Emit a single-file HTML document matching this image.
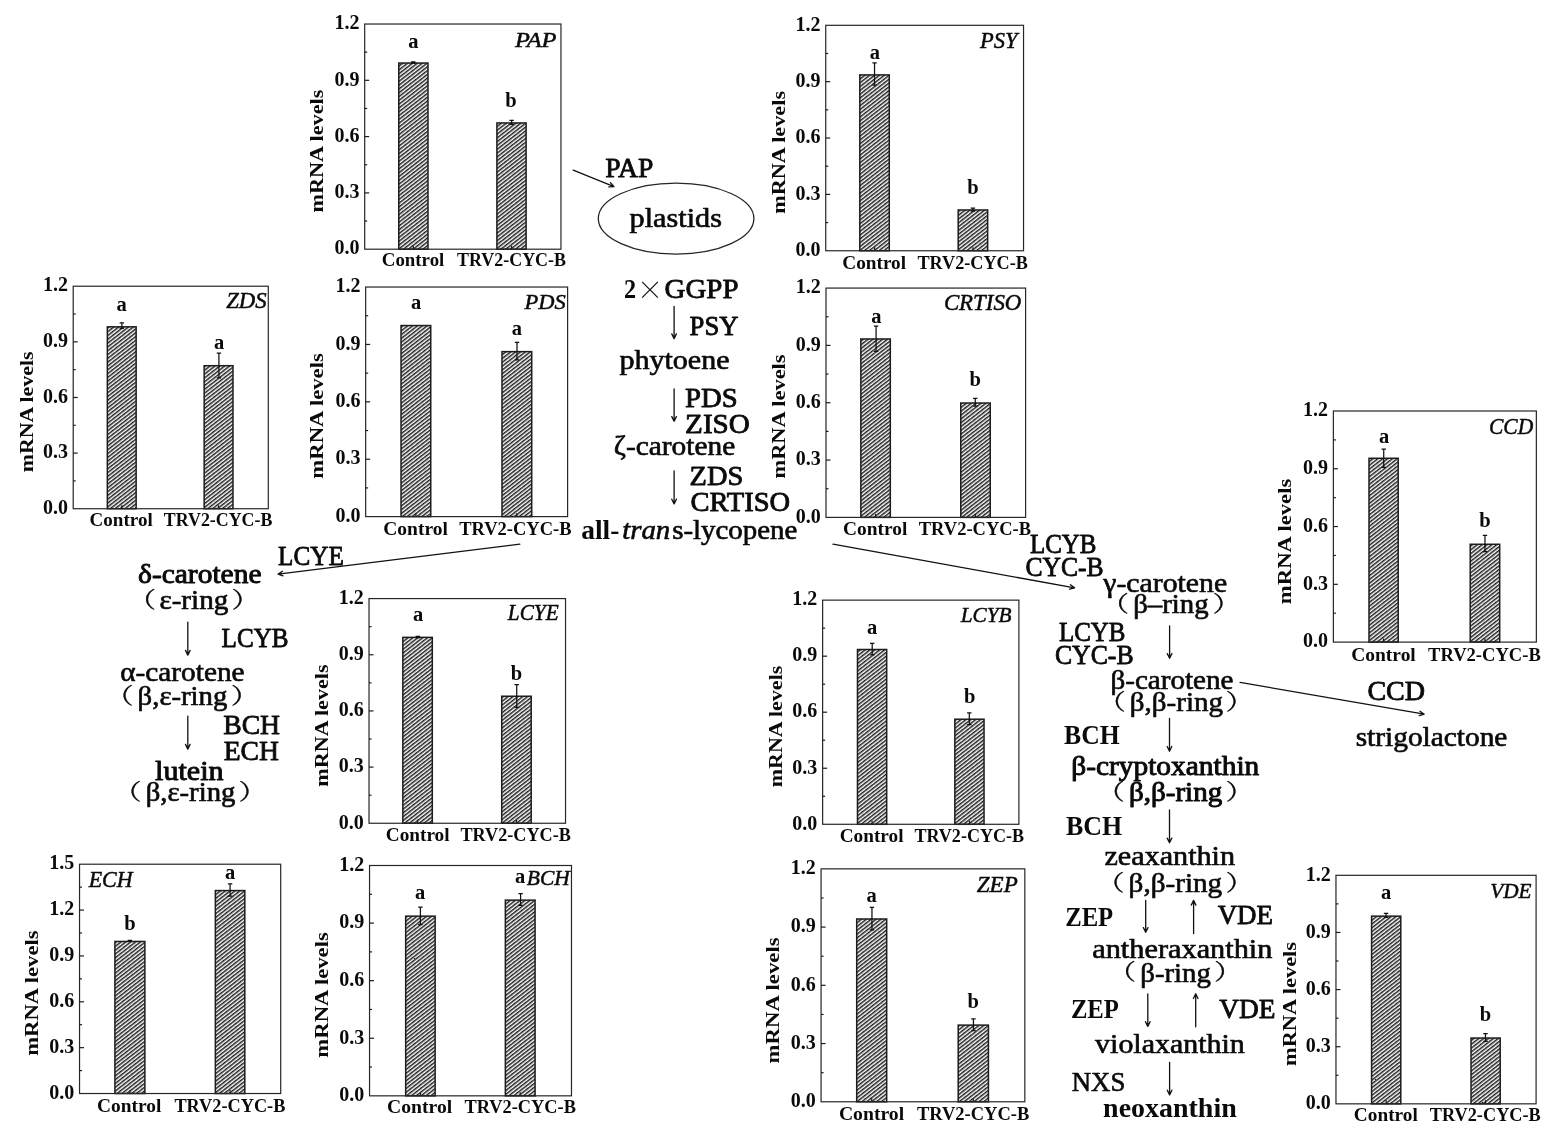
<!DOCTYPE html>
<html lang="en">
<head>
<meta charset="utf-8">
<title>Carotenoid biosynthesis pathway – mRNA levels</title>
<style>
html,body{margin:0;padding:0;background:#fff;}
body{width:1549px;height:1132px;overflow:hidden;}
svg{display:block;}
text{font-family:"Liberation Serif", "DejaVu Serif", serif;fill:#0a0a0a;}
.b{font-weight:bold;}
.i{font-style:italic;}
.bi{font-style:italic;font-weight:bold;}
.gi{font-style:italic;stroke:#0a0a0a;stroke-width:0.5px;stroke-linejoin:round;}
.p{font-weight:normal;stroke:#0a0a0a;stroke-width:0.62px;stroke-linejoin:round;}
.pu{font-weight:normal;stroke:#0a0a0a;stroke-width:0.8px;stroke-linejoin:round;}
.pb{font-weight:bold;}
.ps{font-weight:normal;stroke:#0a0a0a;stroke-width:0.9px;stroke-linejoin:round;}
.pi{font-style:italic;stroke:#0a0a0a;stroke-width:0.6px;stroke-linejoin:round;}
.cj{font-family:"Liberation Serif", "Noto Serif CJK SC", "Noto Sans CJK SC", serif;stroke:#0a0a0a;stroke-width:0.3px;}
.x{font-family:"Noto Serif CJK SC", "Liberation Serif", "DejaVu Serif", serif;}
.bar{fill:url(#hatch);stroke:#1c1c1c;stroke-width:1.5;}
.fr{fill:none;stroke:#262626;stroke-width:1.2;}
.tk{stroke:#1c1c1c;stroke-width:1.2;}
.eb{stroke:#111;stroke-width:1.25;fill:none;}
.ar{stroke:#111;stroke-width:1.3;fill:none;stroke-linecap:round;stroke-linejoin:round;}
</style>
</head>
<body>
<svg width="1549" height="1132" viewBox="0 0 1549 1132">
<defs>
<pattern id="hatch" patternUnits="userSpaceOnUse" width="4" height="3" patternTransform="rotate(-38)">
<rect width="4" height="3" fill="#fff"/>
<rect y="0" width="4" height="1.5" fill="#1e1e1e"/>
</pattern>
</defs>
<rect width="1549" height="1132" fill="#fff"/>
<g>
<rect class="bar" x="398.77" y="63.04" width="29.21" height="186.15"/>
<line class="tk" x1="413.38" y1="249.19" x2="413.38" y2="245.69"/>
<rect class="bar" x="496.90" y="122.95" width="29.21" height="126.24"/>
<line class="tk" x1="511.50" y1="249.19" x2="511.50" y2="245.69"/>
<path class="eb" d="M413.25 61.98V63.01M411.05 61.98H415.45M411.05 63.01H415.45"/>
<path class="eb" d="M511.63 120.34V124.47M509.43 120.34H513.83M509.43 124.47H513.83"/>
<rect class="fr" x="364.70" y="24.02" width="196.26" height="225.18"/>
<line class="tk" x1="364.70" y1="221.05" x2="367.20" y2="221.05"/>
<text class="b" x="359.4" y="254.4" font-size="20" text-anchor="end">0.0</text>
<line class="tk" x1="364.70" y1="192.90" x2="369.20" y2="192.90"/>
<line class="tk" x1="364.70" y1="164.75" x2="367.20" y2="164.75"/>
<text class="b" x="359.4" y="198.1" font-size="20" text-anchor="end">0.3</text>
<line class="tk" x1="364.70" y1="136.60" x2="369.20" y2="136.60"/>
<line class="tk" x1="364.70" y1="108.46" x2="367.20" y2="108.46"/>
<text class="b" x="359.4" y="141.8" font-size="20" text-anchor="end">0.6</text>
<line class="tk" x1="364.70" y1="80.31" x2="369.20" y2="80.31"/>
<line class="tk" x1="364.70" y1="52.16" x2="367.20" y2="52.16"/>
<text class="b" x="359.4" y="85.5" font-size="20" text-anchor="end">0.9</text>
<text class="b" x="359.4" y="29.2" font-size="20" text-anchor="end">1.2</text>
<text class="b" x="413.3" y="47.6" font-size="20.5" text-anchor="middle">a</text>
<text class="b" x="510.9" y="106.8" font-size="20.5" text-anchor="middle">b</text>
<text class="gi" x="515.0" y="46.5" font-size="21.2" textLength="41.5" lengthAdjust="spacingAndGlyphs">PAP</text>
<text class="b" x="381.8" y="266.4" font-size="18" textLength="62.5" lengthAdjust="spacingAndGlyphs">Control</text>
<text class="b" x="457.0" y="266.4" font-size="18" textLength="109.0" lengthAdjust="spacingAndGlyphs">TRV2-CYC-B</text>
<text class="b" transform="translate(323.2 151.1) rotate(-90)" font-size="18" text-anchor="middle" textLength="122.9" lengthAdjust="spacingAndGlyphs">mRNA levels</text>
</g>
<g>
<rect class="bar" x="859.80" y="74.92" width="29.47" height="175.82"/>
<line class="tk" x1="874.54" y1="250.74" x2="874.54" y2="247.24"/>
<rect class="bar" x="958.19" y="209.98" width="29.47" height="40.77"/>
<line class="tk" x1="972.92" y1="250.74" x2="972.92" y2="247.24"/>
<path class="eb" d="M874.54 62.75V85.22M872.34 62.75H876.74M872.34 85.22H876.74"/>
<path class="eb" d="M972.92 208.13V211.23M970.72 208.13H975.12M970.72 211.23H975.12"/>
<rect class="fr" x="825.73" y="25.31" width="197.81" height="225.44"/>
<line class="tk" x1="825.73" y1="222.56" x2="828.23" y2="222.56"/>
<text class="b" x="820.4" y="255.9" font-size="20" text-anchor="end">0.0</text>
<line class="tk" x1="825.73" y1="194.38" x2="830.23" y2="194.38"/>
<line class="tk" x1="825.73" y1="166.20" x2="828.23" y2="166.20"/>
<text class="b" x="820.4" y="199.6" font-size="20" text-anchor="end">0.3</text>
<line class="tk" x1="825.73" y1="138.02" x2="830.23" y2="138.02"/>
<line class="tk" x1="825.73" y1="109.85" x2="828.23" y2="109.85"/>
<text class="b" x="820.4" y="143.2" font-size="20" text-anchor="end">0.6</text>
<line class="tk" x1="825.73" y1="81.67" x2="830.23" y2="81.67"/>
<line class="tk" x1="825.73" y1="53.49" x2="828.23" y2="53.49"/>
<text class="b" x="820.4" y="86.9" font-size="20" text-anchor="end">0.9</text>
<text class="b" x="820.4" y="30.5" font-size="20" text-anchor="end">1.2</text>
<text class="b" x="874.8" y="58.7" font-size="20.5" text-anchor="middle">a</text>
<text class="b" x="973.0" y="193.9" font-size="20.5" text-anchor="middle">b</text>
<text class="gi" x="980.0" y="47.8" font-size="23.1" textLength="37.5" lengthAdjust="spacingAndGlyphs">PSY</text>
<text class="b" x="842.3" y="269.0" font-size="18" textLength="63.8" lengthAdjust="spacingAndGlyphs">Control</text>
<text class="b" x="917.5" y="269.0" font-size="18" textLength="110.3" lengthAdjust="spacingAndGlyphs">TRV2-CYC-B</text>
<text class="b" transform="translate(784.5 152.4) rotate(-90)" font-size="18" text-anchor="middle" textLength="122.9" lengthAdjust="spacingAndGlyphs">mRNA levels</text>
</g>
<g>
<rect class="bar" x="107.34" y="326.83" width="28.81" height="181.88"/>
<line class="tk" x1="121.74" y1="508.71" x2="121.74" y2="505.21"/>
<rect class="bar" x="204.16" y="365.70" width="28.81" height="143.01"/>
<line class="tk" x1="218.56" y1="508.71" x2="218.56" y2="505.21"/>
<path class="eb" d="M121.86 322.94V328.43M119.66 322.94H124.06M119.66 328.43H124.06"/>
<path class="eb" d="M218.92 353.23V377.79M216.72 353.23H221.12M216.72 377.79H221.12"/>
<rect class="fr" x="73.21" y="286.22" width="195.07" height="222.50"/>
<line class="tk" x1="73.21" y1="480.90" x2="75.71" y2="480.90"/>
<text class="b" x="67.9" y="513.9" font-size="20" text-anchor="end">0.0</text>
<line class="tk" x1="73.21" y1="453.09" x2="77.71" y2="453.09"/>
<line class="tk" x1="73.21" y1="425.28" x2="75.71" y2="425.28"/>
<text class="b" x="67.9" y="458.3" font-size="20" text-anchor="end">0.3</text>
<line class="tk" x1="73.21" y1="397.47" x2="77.71" y2="397.47"/>
<line class="tk" x1="73.21" y1="369.65" x2="75.71" y2="369.65"/>
<text class="b" x="67.9" y="402.7" font-size="20" text-anchor="end">0.6</text>
<line class="tk" x1="73.21" y1="341.84" x2="77.71" y2="341.84"/>
<line class="tk" x1="73.21" y1="314.03" x2="75.71" y2="314.03"/>
<text class="b" x="67.9" y="347.0" font-size="20" text-anchor="end">0.9</text>
<text class="b" x="67.9" y="291.4" font-size="20" text-anchor="end">1.2</text>
<text class="b" x="121.7" y="310.7" font-size="20.5" text-anchor="middle">a</text>
<text class="b" x="219.0" y="349.3" font-size="20.5" text-anchor="middle">a</text>
<text class="gi" x="226.2" y="307.9" font-size="22.2" textLength="40.3" lengthAdjust="spacingAndGlyphs">ZDS</text>
<text class="b" x="89.6" y="526.0" font-size="18" textLength="63.1" lengthAdjust="spacingAndGlyphs">Control</text>
<text class="b" x="163.8" y="526.0" font-size="18" textLength="108.6" lengthAdjust="spacingAndGlyphs">TRV2-CYC-B</text>
<text class="b" transform="translate(32.5 411.9) rotate(-90)" font-size="18" text-anchor="middle" textLength="120.7" lengthAdjust="spacingAndGlyphs">mRNA levels</text>
</g>
<g>
<rect class="bar" x="401.02" y="325.55" width="29.73" height="191.06"/>
<line class="tk" x1="415.89" y1="516.61" x2="415.89" y2="513.11"/>
<rect class="bar" x="501.99" y="351.63" width="29.73" height="164.98"/>
<line class="tk" x1="516.86" y1="516.61" x2="516.86" y2="513.11"/>
<path class="eb" d="M516.99 342.30V359.86M514.79 342.30H519.19M514.79 359.86H519.19"/>
<rect class="fr" x="365.66" y="287.04" width="201.94" height="229.57"/>
<line class="tk" x1="365.66" y1="487.91" x2="368.16" y2="487.91"/>
<text class="b" x="360.4" y="521.8" font-size="20" text-anchor="end">0.0</text>
<line class="tk" x1="365.66" y1="459.22" x2="370.16" y2="459.22"/>
<line class="tk" x1="365.66" y1="430.52" x2="368.16" y2="430.52"/>
<text class="b" x="360.4" y="464.4" font-size="20" text-anchor="end">0.3</text>
<line class="tk" x1="365.66" y1="401.83" x2="370.16" y2="401.83"/>
<line class="tk" x1="365.66" y1="373.13" x2="368.16" y2="373.13"/>
<text class="b" x="360.4" y="407.0" font-size="20" text-anchor="end">0.6</text>
<line class="tk" x1="365.66" y1="344.44" x2="370.16" y2="344.44"/>
<line class="tk" x1="365.66" y1="315.74" x2="368.16" y2="315.74"/>
<text class="b" x="360.4" y="349.6" font-size="20" text-anchor="end">0.9</text>
<text class="b" x="360.4" y="292.2" font-size="20" text-anchor="end">1.2</text>
<text class="b" x="416.1" y="309.3" font-size="20.5" text-anchor="middle">a</text>
<text class="b" x="516.8" y="335.2" font-size="20.5" text-anchor="middle">a</text>
<text class="gi" x="524.6" y="308.7" font-size="21.6" textLength="41.2" lengthAdjust="spacingAndGlyphs">PDS</text>
<text class="b" x="383.3" y="535.1" font-size="18" textLength="64.6" lengthAdjust="spacingAndGlyphs">Control</text>
<text class="b" x="459.2" y="535.1" font-size="18" textLength="112.3" lengthAdjust="spacingAndGlyphs">TRV2-CYC-B</text>
<text class="b" transform="translate(322.9 415.9) rotate(-90)" font-size="18" text-anchor="middle" textLength="125.5" lengthAdjust="spacingAndGlyphs">mRNA levels</text>
</g>
<g>
<rect class="bar" x="860.84" y="338.98" width="29.47" height="178.40"/>
<line class="tk" x1="875.57" y1="517.39" x2="875.57" y2="513.89"/>
<rect class="bar" x="960.77" y="403.02" width="29.47" height="114.36"/>
<line class="tk" x1="975.51" y1="517.39" x2="975.51" y2="513.89"/>
<path class="eb" d="M876.09 326.04V351.34M873.89 326.04H878.29M873.89 351.34H878.29"/>
<path class="eb" d="M975.25 398.34V406.09M973.05 398.34H977.45M973.05 406.09H977.45"/>
<rect class="fr" x="825.99" y="288.08" width="199.61" height="229.31"/>
<line class="tk" x1="825.99" y1="488.72" x2="828.49" y2="488.72"/>
<text class="b" x="820.7" y="522.6" font-size="20" text-anchor="end">0.0</text>
<line class="tk" x1="825.99" y1="460.06" x2="830.49" y2="460.06"/>
<line class="tk" x1="825.99" y1="431.39" x2="828.49" y2="431.39"/>
<text class="b" x="820.7" y="465.3" font-size="20" text-anchor="end">0.3</text>
<line class="tk" x1="825.99" y1="402.73" x2="830.49" y2="402.73"/>
<line class="tk" x1="825.99" y1="374.07" x2="828.49" y2="374.07"/>
<text class="b" x="820.7" y="407.9" font-size="20" text-anchor="end">0.6</text>
<line class="tk" x1="825.99" y1="345.40" x2="830.49" y2="345.40"/>
<line class="tk" x1="825.99" y1="316.74" x2="828.49" y2="316.74"/>
<text class="b" x="820.7" y="350.6" font-size="20" text-anchor="end">0.9</text>
<text class="b" x="820.7" y="293.3" font-size="20" text-anchor="end">1.2</text>
<text class="b" x="876.4" y="322.8" font-size="20.5" text-anchor="middle">a</text>
<text class="b" x="975.3" y="385.9" font-size="20.5" text-anchor="middle">b</text>
<text class="gi" x="943.9" y="310.0" font-size="22.6" textLength="77.4" lengthAdjust="spacingAndGlyphs">CRTISO</text>
<text class="b" x="843.1" y="535.1" font-size="18" textLength="64.3" lengthAdjust="spacingAndGlyphs">Control</text>
<text class="b" x="918.8" y="535.1" font-size="18" textLength="112.3" lengthAdjust="spacingAndGlyphs">TRV2-CYC-B</text>
<text class="b" transform="translate(784.5 416.5) rotate(-90)" font-size="18" text-anchor="middle" textLength="124.2" lengthAdjust="spacingAndGlyphs">mRNA levels</text>
</g>
<g>
<rect class="bar" x="1369.00" y="458.28" width="29.21" height="183.83"/>
<line class="tk" x1="1383.60" y1="642.10" x2="1383.60" y2="638.60"/>
<rect class="bar" x="1470.22" y="544.27" width="29.47" height="97.84"/>
<line class="tk" x1="1484.96" y1="642.10" x2="1484.96" y2="638.60"/>
<path class="eb" d="M1383.73 449.21V467.28M1381.53 449.21H1385.93M1381.53 467.28H1385.93"/>
<path class="eb" d="M1484.96 535.46V551.72M1482.76 535.46H1487.16M1482.76 551.72H1487.16"/>
<rect class="fr" x="1333.38" y="410.99" width="202.97" height="231.12"/>
<line class="tk" x1="1333.38" y1="613.21" x2="1335.88" y2="613.21"/>
<text class="b" x="1328.1" y="647.3" font-size="20" text-anchor="end">0.0</text>
<line class="tk" x1="1333.38" y1="584.33" x2="1337.88" y2="584.33"/>
<line class="tk" x1="1333.38" y1="555.44" x2="1335.88" y2="555.44"/>
<text class="b" x="1328.1" y="589.5" font-size="20" text-anchor="end">0.3</text>
<line class="tk" x1="1333.38" y1="526.55" x2="1337.88" y2="526.55"/>
<line class="tk" x1="1333.38" y1="497.66" x2="1335.88" y2="497.66"/>
<text class="b" x="1328.1" y="531.7" font-size="20" text-anchor="end">0.6</text>
<line class="tk" x1="1333.38" y1="468.77" x2="1337.88" y2="468.77"/>
<line class="tk" x1="1333.38" y1="439.88" x2="1335.88" y2="439.88"/>
<text class="b" x="1328.1" y="474.0" font-size="20" text-anchor="end">0.9</text>
<text class="b" x="1328.1" y="416.2" font-size="20" text-anchor="end">1.2</text>
<text class="b" x="1384.0" y="442.6" font-size="20.5" text-anchor="middle">a</text>
<text class="b" x="1485.0" y="527.4" font-size="20.5" text-anchor="middle">b</text>
<text class="gi" x="1489.0" y="434.2" font-size="23.1" textLength="44.2" lengthAdjust="spacingAndGlyphs">CCD</text>
<text class="b" x="1351.2" y="660.6" font-size="18" textLength="64.6" lengthAdjust="spacingAndGlyphs">Control</text>
<text class="b" x="1428.0" y="660.6" font-size="18" textLength="112.8" lengthAdjust="spacingAndGlyphs">TRV2-CYC-B</text>
<text class="b" transform="translate(1290.9 541.4) rotate(-90)" font-size="18" text-anchor="middle" textLength="125.5" lengthAdjust="spacingAndGlyphs">mRNA levels</text>
</g>
<g>
<rect class="bar" x="402.83" y="637.36" width="29.47" height="185.89"/>
<line class="tk" x1="417.57" y1="823.25" x2="417.57" y2="819.75"/>
<rect class="bar" x="501.73" y="696.24" width="29.47" height="127.02"/>
<line class="tk" x1="516.47" y1="823.25" x2="516.47" y2="819.75"/>
<path class="eb" d="M417.82 636.29V637.59M415.62 636.29H420.02M415.62 637.59H420.02"/>
<path class="eb" d="M516.73 684.58V707.31M514.53 684.58H518.93M514.53 707.31H518.93"/>
<rect class="fr" x="369.02" y="598.59" width="196.51" height="224.66"/>
<line class="tk" x1="369.02" y1="795.17" x2="371.52" y2="795.17"/>
<text class="b" x="363.7" y="828.5" font-size="20" text-anchor="end">0.0</text>
<line class="tk" x1="369.02" y1="767.09" x2="373.52" y2="767.09"/>
<line class="tk" x1="369.02" y1="739.01" x2="371.52" y2="739.01"/>
<text class="b" x="363.7" y="772.3" font-size="20" text-anchor="end">0.3</text>
<line class="tk" x1="369.02" y1="710.92" x2="373.52" y2="710.92"/>
<line class="tk" x1="369.02" y1="682.84" x2="371.52" y2="682.84"/>
<text class="b" x="363.7" y="716.1" font-size="20" text-anchor="end">0.6</text>
<line class="tk" x1="369.02" y1="654.76" x2="373.52" y2="654.76"/>
<line class="tk" x1="369.02" y1="626.68" x2="371.52" y2="626.68"/>
<text class="b" x="363.7" y="660.0" font-size="20" text-anchor="end">0.9</text>
<text class="b" x="363.7" y="603.8" font-size="20" text-anchor="end">1.2</text>
<text class="b" x="418.1" y="621.4" font-size="20.5" text-anchor="middle">a</text>
<text class="b" x="516.5" y="679.6" font-size="20.5" text-anchor="middle">b</text>
<text class="gi" x="507.8" y="620.0" font-size="22.6" textLength="50.9" lengthAdjust="spacingAndGlyphs">LCYE</text>
<text class="b" x="385.8" y="841.2" font-size="18" textLength="63.8" lengthAdjust="spacingAndGlyphs">Control</text>
<text class="b" x="460.5" y="841.2" font-size="18" textLength="110.3" lengthAdjust="spacingAndGlyphs">TRV2-CYC-B</text>
<text class="b" transform="translate(328.1 725.6) rotate(-90)" font-size="18" text-anchor="middle" textLength="122.4" lengthAdjust="spacingAndGlyphs">mRNA levels</text>
</g>
<g>
<rect class="bar" x="857.48" y="649.50" width="29.21" height="174.79"/>
<line class="tk" x1="872.09" y1="824.29" x2="872.09" y2="820.79"/>
<rect class="bar" x="954.83" y="719.22" width="29.21" height="105.07"/>
<line class="tk" x1="969.44" y1="824.29" x2="969.44" y2="820.79"/>
<path class="eb" d="M872.21 643.27V654.89M870.01 643.27H874.41M870.01 654.89H874.41"/>
<path class="eb" d="M969.31 712.99V724.61M967.11 712.99H971.51M967.11 724.61H971.51"/>
<rect class="fr" x="822.63" y="600.14" width="196.26" height="224.14"/>
<line class="tk" x1="822.63" y1="796.27" x2="825.13" y2="796.27"/>
<text class="b" x="817.3" y="829.5" font-size="20" text-anchor="end">0.0</text>
<line class="tk" x1="822.63" y1="768.25" x2="827.13" y2="768.25"/>
<line class="tk" x1="822.63" y1="740.23" x2="825.13" y2="740.23"/>
<text class="b" x="817.3" y="773.5" font-size="20" text-anchor="end">0.3</text>
<line class="tk" x1="822.63" y1="712.21" x2="827.13" y2="712.21"/>
<line class="tk" x1="822.63" y1="684.20" x2="825.13" y2="684.20"/>
<text class="b" x="817.3" y="717.4" font-size="20" text-anchor="end">0.6</text>
<line class="tk" x1="822.63" y1="656.18" x2="827.13" y2="656.18"/>
<line class="tk" x1="822.63" y1="628.16" x2="825.13" y2="628.16"/>
<text class="b" x="817.3" y="661.4" font-size="20" text-anchor="end">0.9</text>
<text class="b" x="817.3" y="605.3" font-size="20" text-anchor="end">1.2</text>
<text class="b" x="872.0" y="634.1" font-size="20.5" text-anchor="middle">a</text>
<text class="b" x="969.6" y="702.9" font-size="20.5" text-anchor="middle">b</text>
<text class="gi" x="960.7" y="622.0" font-size="21.6" textLength="50.9" lengthAdjust="spacingAndGlyphs">LCYB</text>
<text class="b" x="839.7" y="842.0" font-size="18" textLength="63.8" lengthAdjust="spacingAndGlyphs">Control</text>
<text class="b" x="914.4" y="842.0" font-size="18" textLength="109.7" lengthAdjust="spacingAndGlyphs">TRV2-CYC-B</text>
<text class="b" transform="translate(782.0 726.5) rotate(-90)" font-size="18" text-anchor="middle" textLength="121.6" lengthAdjust="spacingAndGlyphs">mRNA levels</text>
</g>
<g>
<rect class="bar" x="114.90" y="941.45" width="29.99" height="152.06"/>
<line class="tk" x1="129.89" y1="1093.52" x2="129.89" y2="1090.02"/>
<rect class="bar" x="215.35" y="890.58" width="29.47" height="202.94"/>
<line class="tk" x1="230.08" y1="1093.52" x2="230.08" y2="1090.02"/>
<path class="eb" d="M129.89 940.39V941.42M127.69 940.39H132.09M127.69 941.42H132.09"/>
<path class="eb" d="M230.08 883.83V896.23M227.88 883.83H232.28M227.88 896.23H232.28"/>
<rect class="fr" x="79.54" y="864.21" width="201.16" height="229.31"/>
<line class="tk" x1="79.54" y1="1070.59" x2="82.04" y2="1070.59"/>
<text class="b" x="74.2" y="1098.7" font-size="20" text-anchor="end">0.0</text>
<line class="tk" x1="79.54" y1="1047.66" x2="84.04" y2="1047.66"/>
<line class="tk" x1="79.54" y1="1024.72" x2="82.04" y2="1024.72"/>
<text class="b" x="74.2" y="1052.9" font-size="20" text-anchor="end">0.3</text>
<line class="tk" x1="79.54" y1="1001.79" x2="84.04" y2="1001.79"/>
<line class="tk" x1="79.54" y1="978.86" x2="82.04" y2="978.86"/>
<text class="b" x="74.2" y="1007.0" font-size="20" text-anchor="end">0.6</text>
<line class="tk" x1="79.54" y1="955.93" x2="84.04" y2="955.93"/>
<line class="tk" x1="79.54" y1="933.00" x2="82.04" y2="933.00"/>
<text class="b" x="74.2" y="961.1" font-size="20" text-anchor="end">0.9</text>
<line class="tk" x1="79.54" y1="910.07" x2="84.04" y2="910.07"/>
<line class="tk" x1="79.54" y1="887.14" x2="82.04" y2="887.14"/>
<text class="b" x="74.2" y="915.3" font-size="20" text-anchor="end">1.2</text>
<text class="b" x="74.2" y="869.4" font-size="20" text-anchor="end">1.5</text>
<text class="b" x="129.9" y="929.5" font-size="20.5" text-anchor="middle">b</text>
<text class="b" x="230.1" y="878.8" font-size="20.5" text-anchor="middle">a</text>
<text class="gi" x="88.7" y="886.8" font-size="22.8" textLength="43.9" lengthAdjust="spacingAndGlyphs">ECH</text>
<text class="b" x="97.1" y="1111.5" font-size="18" textLength="64.3" lengthAdjust="spacingAndGlyphs">Control</text>
<text class="b" x="174.4" y="1111.5" font-size="18" textLength="111.0" lengthAdjust="spacingAndGlyphs">TRV2-CYC-B</text>
<text class="b" transform="translate(38.1 993.1) rotate(-90)" font-size="18" text-anchor="middle" textLength="125.5" lengthAdjust="spacingAndGlyphs">mRNA levels</text>
</g>
<g>
<rect class="bar" x="405.67" y="916.15" width="29.47" height="179.70"/>
<line class="tk" x1="420.41" y1="1095.84" x2="420.41" y2="1092.34"/>
<rect class="bar" x="505.35" y="900.14" width="29.73" height="195.71"/>
<line class="tk" x1="520.21" y1="1095.84" x2="520.21" y2="1092.34"/>
<path class="eb" d="M420.41 907.07V924.63M418.21 907.07H422.61M418.21 924.63H422.61"/>
<path class="eb" d="M520.60 893.65V905.27M518.40 893.65H522.80M518.40 905.27H522.80"/>
<rect class="fr" x="369.54" y="865.50" width="201.94" height="230.34"/>
<line class="tk" x1="369.54" y1="1067.05" x2="372.04" y2="1067.05"/>
<text class="b" x="364.2" y="1101.0" font-size="20" text-anchor="end">0.0</text>
<line class="tk" x1="369.54" y1="1038.26" x2="374.04" y2="1038.26"/>
<line class="tk" x1="369.54" y1="1009.46" x2="372.04" y2="1009.46"/>
<text class="b" x="364.2" y="1043.5" font-size="20" text-anchor="end">0.3</text>
<line class="tk" x1="369.54" y1="980.67" x2="374.04" y2="980.67"/>
<line class="tk" x1="369.54" y1="951.88" x2="372.04" y2="951.88"/>
<text class="b" x="364.2" y="985.9" font-size="20" text-anchor="end">0.6</text>
<line class="tk" x1="369.54" y1="923.08" x2="374.04" y2="923.08"/>
<line class="tk" x1="369.54" y1="894.29" x2="372.04" y2="894.29"/>
<text class="b" x="364.2" y="928.3" font-size="20" text-anchor="end">0.9</text>
<text class="b" x="364.2" y="870.7" font-size="20" text-anchor="end">1.2</text>
<text class="b" x="420.2" y="899.4" font-size="20.5" text-anchor="middle">a</text>
<text class="b" x="520.1" y="883.4" font-size="20.5" text-anchor="middle">a</text>
<text class="gi" x="526.8" y="885.3" font-size="20.9" textLength="42.9" lengthAdjust="spacingAndGlyphs">BCH</text>
<text class="b" x="387.1" y="1113.0" font-size="18" textLength="65.1" lengthAdjust="spacingAndGlyphs">Control</text>
<text class="b" x="464.4" y="1113.0" font-size="18" textLength="111.5" lengthAdjust="spacingAndGlyphs">TRV2-CYC-B</text>
<text class="b" transform="translate(328.1 994.9) rotate(-90)" font-size="18" text-anchor="middle" textLength="125.5" lengthAdjust="spacingAndGlyphs">mRNA levels</text>
</g>
<g>
<rect class="bar" x="856.70" y="918.99" width="29.99" height="182.79"/>
<line class="tk" x1="871.70" y1="1101.78" x2="871.70" y2="1098.28"/>
<rect class="bar" x="958.19" y="1025.12" width="30.25" height="76.66"/>
<line class="tk" x1="973.31" y1="1101.78" x2="973.31" y2="1098.28"/>
<path class="eb" d="M871.96 907.33V929.80M869.76 907.33H874.16M869.76 929.80H874.16"/>
<path class="eb" d="M973.44 1018.89V1030.51M971.24 1018.89H975.64M971.24 1030.51H975.64"/>
<rect class="fr" x="821.08" y="868.86" width="203.74" height="232.92"/>
<line class="tk" x1="821.08" y1="1072.66" x2="823.58" y2="1072.66"/>
<text class="b" x="815.8" y="1107.0" font-size="20" text-anchor="end">0.0</text>
<line class="tk" x1="821.08" y1="1043.55" x2="825.58" y2="1043.55"/>
<line class="tk" x1="821.08" y1="1014.43" x2="823.58" y2="1014.43"/>
<text class="b" x="815.8" y="1048.7" font-size="20" text-anchor="end">0.3</text>
<line class="tk" x1="821.08" y1="985.32" x2="825.58" y2="985.32"/>
<line class="tk" x1="821.08" y1="956.20" x2="823.58" y2="956.20"/>
<text class="b" x="815.8" y="990.5" font-size="20" text-anchor="end">0.6</text>
<line class="tk" x1="821.08" y1="927.09" x2="825.58" y2="927.09"/>
<line class="tk" x1="821.08" y1="897.97" x2="823.58" y2="897.97"/>
<text class="b" x="815.8" y="932.3" font-size="20" text-anchor="end">0.9</text>
<text class="b" x="815.8" y="874.1" font-size="20" text-anchor="end">1.2</text>
<text class="b" x="871.7" y="902.0" font-size="20.5" text-anchor="middle">a</text>
<text class="b" x="973.2" y="1007.5" font-size="20.5" text-anchor="middle">b</text>
<text class="gi" x="976.8" y="892.0" font-size="22.2" textLength="40.9" lengthAdjust="spacingAndGlyphs">ZEP</text>
<text class="b" x="838.9" y="1120.0" font-size="18" textLength="65.3" lengthAdjust="spacingAndGlyphs">Control</text>
<text class="b" x="917.0" y="1120.0" font-size="18" textLength="112.3" lengthAdjust="spacingAndGlyphs">TRV2-CYC-B</text>
<text class="b" transform="translate(779.4 1000.4) rotate(-90)" font-size="18" text-anchor="middle" textLength="126.2" lengthAdjust="spacingAndGlyphs">mRNA levels</text>
</g>
<g>
<rect class="bar" x="1371.58" y="916.15" width="29.21" height="187.70"/>
<line class="tk" x1="1386.19" y1="1103.85" x2="1386.19" y2="1100.35"/>
<rect class="bar" x="1471.00" y="1038.03" width="29.21" height="65.82"/>
<line class="tk" x1="1485.60" y1="1103.85" x2="1485.60" y2="1100.35"/>
<path class="eb" d="M1386.06 913.27V917.40M1383.86 913.27H1388.26M1383.86 917.40H1388.26"/>
<path class="eb" d="M1485.48 1033.61V1041.35M1483.28 1033.61H1487.68M1483.28 1041.35H1487.68"/>
<rect class="fr" x="1335.96" y="875.31" width="200.13" height="228.53"/>
<line class="tk" x1="1335.96" y1="1075.28" x2="1338.46" y2="1075.28"/>
<text class="b" x="1330.7" y="1109.0" font-size="20" text-anchor="end">0.0</text>
<line class="tk" x1="1335.96" y1="1046.71" x2="1340.46" y2="1046.71"/>
<line class="tk" x1="1335.96" y1="1018.15" x2="1338.46" y2="1018.15"/>
<text class="b" x="1330.7" y="1051.9" font-size="20" text-anchor="end">0.3</text>
<line class="tk" x1="1335.96" y1="989.58" x2="1340.46" y2="989.58"/>
<line class="tk" x1="1335.96" y1="961.01" x2="1338.46" y2="961.01"/>
<text class="b" x="1330.7" y="994.8" font-size="20" text-anchor="end">0.6</text>
<line class="tk" x1="1335.96" y1="932.45" x2="1340.46" y2="932.45"/>
<line class="tk" x1="1335.96" y1="903.88" x2="1338.46" y2="903.88"/>
<text class="b" x="1330.7" y="937.6" font-size="20" text-anchor="end">0.9</text>
<text class="b" x="1330.7" y="880.5" font-size="20" text-anchor="end">1.2</text>
<text class="b" x="1386.1" y="899.4" font-size="20.5" text-anchor="middle">a</text>
<text class="b" x="1485.5" y="1020.9" font-size="20.5" text-anchor="middle">b</text>
<text class="gi" x="1490.3" y="897.8" font-size="21.4" textLength="41.3" lengthAdjust="spacingAndGlyphs">VDE</text>
<text class="b" x="1353.8" y="1121.3" font-size="18" textLength="64.0" lengthAdjust="spacingAndGlyphs">Control</text>
<text class="b" x="1429.8" y="1121.3" font-size="18" textLength="111.0" lengthAdjust="spacingAndGlyphs">TRV2-CYC-B</text>
<text class="b" transform="translate(1295.5 1004.0) rotate(-90)" font-size="18" text-anchor="middle" textLength="124.2" lengthAdjust="spacingAndGlyphs">mRNA levels</text>
</g>
<text class="pu" x="605.3" y="176.5" font-size="26.5" textLength="48.1" lengthAdjust="spacingAndGlyphs">PAP</text>
<path class="ar" d="M573.2 170.1L614.0 186.6M608.8 186.9L614.0 186.6L610.5 182.7"/>
<ellipse class="fr" cx="676.1" cy="218.6" rx="77.8" ry="35.5" style="stroke-width:1.3"/>
<text class="p" x="629.6" y="226.5" font-size="26.5" textLength="92.4" lengthAdjust="spacingAndGlyphs">plastids</text>
<text><tspan class="pb" x="623.9" y="298.2" font-size="26.5" textLength="12.1" lengthAdjust="spacingAndGlyphs">2</tspan><tspan class="x" x="636.4" y="299.6" font-size="27">×</tspan><tspan class="pu" x="664.6" y="298.2" font-size="26.5" textLength="73.9" lengthAdjust="spacingAndGlyphs">GGPP</tspan></text>
<path class="ar" d="M674.1 306.3L674.1 338.6M671.8 333.9L674.1 338.6L676.4 333.9"/>
<text class="pu" x="689.6" y="334.9" font-size="26.5" textLength="48.9" lengthAdjust="spacingAndGlyphs">PSY</text>
<text class="p" x="619.4" y="368.6" font-size="26.5" textLength="110.2" lengthAdjust="spacingAndGlyphs">phytoene</text>
<path class="ar" d="M674.1 389.0L674.1 421.3M671.8 416.6L674.1 421.3L676.4 416.6"/>
<text class="pu" x="685.1" y="406.9" font-size="26.5" textLength="52.6" lengthAdjust="spacingAndGlyphs">PDS</text>
<text class="pu" x="685.1" y="432.9" font-size="26.5" textLength="64.7" lengthAdjust="spacingAndGlyphs">ZISO</text>
<text class="p" x="613.8" y="455.2" font-size="26.5" textLength="121.4" lengthAdjust="spacingAndGlyphs">ζ-carotene</text>
<path class="ar" d="M674.1 471.0L674.1 503.9M671.8 499.2L674.1 503.9L676.4 499.2"/>
<text class="pu" x="689.6" y="485.0" font-size="26.5" textLength="53.7" lengthAdjust="spacingAndGlyphs">ZDS</text>
<text class="pu" x="690.4" y="511.4" font-size="26.5" textLength="99.7" lengthAdjust="spacingAndGlyphs">CRTISO</text>
<text><tspan class="pb" x="581.2" y="539.1" font-size="26.5" textLength="38.2" lengthAdjust="spacingAndGlyphs">all-</tspan><tspan class="pi" x="622.2" y="539.1" font-size="26.5" textLength="48.1" lengthAdjust="spacingAndGlyphs">tran</tspan><tspan class="p" x="672.2" y="539.1" font-size="26.5" textLength="125.2" lengthAdjust="spacingAndGlyphs">s-lycopene</tspan></text>
<text class="pu" x="278.1" y="564.7" font-size="26.5" textLength="65.7" lengthAdjust="spacingAndGlyphs">LCYE</text>
<path class="ar" d="M519.8 544.2L278.1 574.1M282.5 571.3L278.1 574.1L283.0 575.8"/>
<text class="ps" x="138.0" y="583.3" font-size="26.5" textLength="123.5" lengthAdjust="spacingAndGlyphs">δ-carotene</text>
<text><tspan class="cj" x="127.6" y="607.0" font-size="22.0" textLength="28.6" lengthAdjust="spacingAndGlyphs">（</tspan><tspan class="p" x="159.4" y="609.2" font-size="26.5" textLength="69.0" lengthAdjust="spacingAndGlyphs">ε-ring</tspan><tspan class="cj" x="231.6" y="607.0" font-size="22.0" textLength="28.6" lengthAdjust="spacingAndGlyphs">）</tspan></text>
<path class="ar" d="M187.8 622.1L187.8 655.1M185.5 650.4L187.8 655.1L190.1 650.4"/>
<text class="pu" x="221.6" y="647.0" font-size="26.5" textLength="67.0" lengthAdjust="spacingAndGlyphs">LCYB</text>
<text class="p" x="120.2" y="681.4" font-size="26.5" textLength="124.4" lengthAdjust="spacingAndGlyphs">α-carotene</text>
<text><tspan class="cj" x="105.0" y="702.7" font-size="22.0" textLength="28.6" lengthAdjust="spacingAndGlyphs">（</tspan><tspan class="p" x="137.6" y="704.9" font-size="26.5" textLength="89.7" lengthAdjust="spacingAndGlyphs">β,ε-ring</tspan><tspan class="cj" x="230.8" y="702.7" font-size="22.0" textLength="28.6" lengthAdjust="spacingAndGlyphs">）</tspan></text>
<path class="ar" d="M187.8 716.2L187.8 749.1M185.5 744.4L187.8 749.1L190.1 744.4"/>
<text class="pu" x="223.2" y="733.9" font-size="26.5" textLength="56.9" lengthAdjust="spacingAndGlyphs">BCH</text>
<text class="pu" x="223.7" y="759.7" font-size="26.5" textLength="55.2" lengthAdjust="spacingAndGlyphs">ECH</text>
<text class="ps" x="155.1" y="779.8" font-size="26.5" textLength="68.5" lengthAdjust="spacingAndGlyphs">lutein</text>
<text><tspan class="cj" x="113.1" y="799.0" font-size="22.0" textLength="28.6" lengthAdjust="spacingAndGlyphs">（</tspan><tspan class="p" x="145.7" y="801.2" font-size="26.5" textLength="89.7" lengthAdjust="spacingAndGlyphs">β,ε-ring</tspan><tspan class="cj" x="238.6" y="799.0" font-size="22.0" textLength="28.6" lengthAdjust="spacingAndGlyphs">）</tspan></text>
<text class="pu" x="1029.9" y="552.9" font-size="26.5" textLength="66.6" lengthAdjust="spacingAndGlyphs">LCYB</text>
<text class="pu" x="1025.4" y="575.7" font-size="26.5" textLength="78.3" lengthAdjust="spacingAndGlyphs">CYC-B</text>
<path class="ar" d="M833.0 544.2L1074.6 587.8M1069.6 589.2L1074.6 587.8L1070.4 584.7"/>
<text class="p" x="1103.3" y="592.1" font-size="26.5" textLength="123.9" lengthAdjust="spacingAndGlyphs">γ-carotene</text>
<text><tspan class="cj" x="1100.6" y="610.6" font-size="22.0" textLength="28.6" lengthAdjust="spacingAndGlyphs">（</tspan><tspan class="p" x="1133.2" y="612.8" font-size="26.5" textLength="75.4" lengthAdjust="spacingAndGlyphs">β–ring</tspan><tspan class="cj" x="1212.6" y="610.6" font-size="22.0" textLength="28.6" lengthAdjust="spacingAndGlyphs">）</tspan></text>
<text class="pu" x="1058.9" y="640.6" font-size="26.5" textLength="66.6" lengthAdjust="spacingAndGlyphs">LCYB</text>
<text class="pu" x="1054.9" y="663.6" font-size="26.5" textLength="78.7" lengthAdjust="spacingAndGlyphs">CYC-B</text>
<path class="ar" d="M1169.6 626.0L1169.6 658.3M1167.3 653.6L1169.6 658.3L1171.9 653.6"/>
<text class="p" x="1110.4" y="688.7" font-size="26.5" textLength="123.1" lengthAdjust="spacingAndGlyphs">β-carotene</text>
<text><tspan class="cj" x="1097.2" y="709.1" font-size="22.0" textLength="28.6" lengthAdjust="spacingAndGlyphs">（</tspan><tspan class="p" x="1129.8" y="711.3" font-size="26.5" textLength="93.2" lengthAdjust="spacingAndGlyphs">β,β-ring</tspan><tspan class="cj" x="1225.4" y="709.1" font-size="22.0" textLength="28.6" lengthAdjust="spacingAndGlyphs">）</tspan></text>
<path class="ar" d="M1240.1 682.4L1424.2 714.2M1419.2 715.6L1424.2 714.2L1420.0 711.2"/>
<path class="ar" d="M1169.5 718.4L1169.5 751.2M1167.2 746.5L1169.5 751.2L1171.8 746.5"/>
<text class="pb" x="1064.1" y="744.2" font-size="26.5" textLength="55.6" lengthAdjust="spacingAndGlyphs">BCH</text>
<text class="ps" x="1071.2" y="774.5" font-size="26.5" textLength="188.1" lengthAdjust="spacingAndGlyphs">β-cryptoxanthin</text>
<text><tspan class="cj" x="1096.3" y="799.2" font-size="22.0" textLength="28.6" lengthAdjust="spacingAndGlyphs">（</tspan><tspan class="ps" x="1129.0" y="801.4" font-size="26.5" textLength="93.2" lengthAdjust="spacingAndGlyphs">β,β-ring</tspan><tspan class="cj" x="1225.4" y="799.2" font-size="22.0" textLength="28.6" lengthAdjust="spacingAndGlyphs">）</tspan></text>
<text class="pb" x="1066.0" y="834.7" font-size="26.5" textLength="56.1" lengthAdjust="spacingAndGlyphs">BCH</text>
<path class="ar" d="M1169.5 810.0L1169.5 842.8M1167.2 838.1L1169.5 842.8L1171.8 838.1"/>
<text class="p" x="1104.4" y="864.6" font-size="26.5" textLength="130.7" lengthAdjust="spacingAndGlyphs">zeaxanthin</text>
<text><tspan class="cj" x="1095.9" y="889.9" font-size="22.0" textLength="28.6" lengthAdjust="spacingAndGlyphs">（</tspan><tspan class="p" x="1128.6" y="892.1" font-size="26.5" textLength="93.6" lengthAdjust="spacingAndGlyphs">β,β-ring</tspan><tspan class="cj" x="1225.4" y="889.9" font-size="22.0" textLength="28.6" lengthAdjust="spacingAndGlyphs">）</tspan></text>
<text class="pb" x="1065.2" y="925.6" font-size="26.5" textLength="48.0" lengthAdjust="spacingAndGlyphs">ZEP</text>
<path class="ar" d="M1145.7 900.4L1145.7 932.3M1143.4 927.6L1145.7 932.3L1148.0 927.6"/>
<path class="ar" d="M1193.6 933.6L1193.6 900.4M1195.9 905.1L1193.6 900.4L1191.3 905.1"/>
<text class="pu" x="1217.7" y="923.5" font-size="26.5" textLength="55.3" lengthAdjust="spacingAndGlyphs">VDE</text>
<text class="p" x="1092.2" y="958.2" font-size="26.5" textLength="180.3" lengthAdjust="spacingAndGlyphs">antheraxanthin</text>
<text><tspan class="cj" x="1107.6" y="979.3" font-size="22.0" textLength="28.6" lengthAdjust="spacingAndGlyphs">（</tspan><tspan class="p" x="1140.3" y="981.5" font-size="26.5" textLength="70.6" lengthAdjust="spacingAndGlyphs">β-ring</tspan><tspan class="cj" x="1214.1" y="979.3" font-size="22.0" textLength="28.6" lengthAdjust="spacingAndGlyphs">）</tspan></text>
<text class="pb" x="1070.9" y="1018.4" font-size="26.5" textLength="48.0" lengthAdjust="spacingAndGlyphs">ZEP</text>
<path class="ar" d="M1147.8 993.8L1147.8 1026.4M1145.5 1021.7L1147.8 1026.4L1150.1 1021.7"/>
<path class="ar" d="M1195.7 1026.8L1195.7 993.8M1198.0 998.5L1195.7 993.8L1193.4 998.5"/>
<text class="pu" x="1219.3" y="1018.4" font-size="26.5" textLength="56.1" lengthAdjust="spacingAndGlyphs">VDE</text>
<text class="p" x="1095.1" y="1052.7" font-size="26.5" textLength="149.7" lengthAdjust="spacingAndGlyphs">violaxanthin</text>
<text class="p" x="1071.7" y="1091.3" font-size="26.5" textLength="53.6" lengthAdjust="spacingAndGlyphs">NXS</text>
<path class="ar" d="M1169.6 1062.3L1169.6 1094.9M1167.3 1090.2L1169.6 1094.9L1171.9 1090.2"/>
<text class="pb" x="1103.1" y="1117.1" font-size="26.5" textLength="133.6" lengthAdjust="spacingAndGlyphs">neoxanthin</text>
<text class="pu" x="1367.4" y="700.0" font-size="26.5" textLength="57.7" lengthAdjust="spacingAndGlyphs">CCD</text>
<text class="p" x="1355.7" y="745.8" font-size="26.5" textLength="151.7" lengthAdjust="spacingAndGlyphs">strigolactone</text>
</svg>
</body>
</html>
